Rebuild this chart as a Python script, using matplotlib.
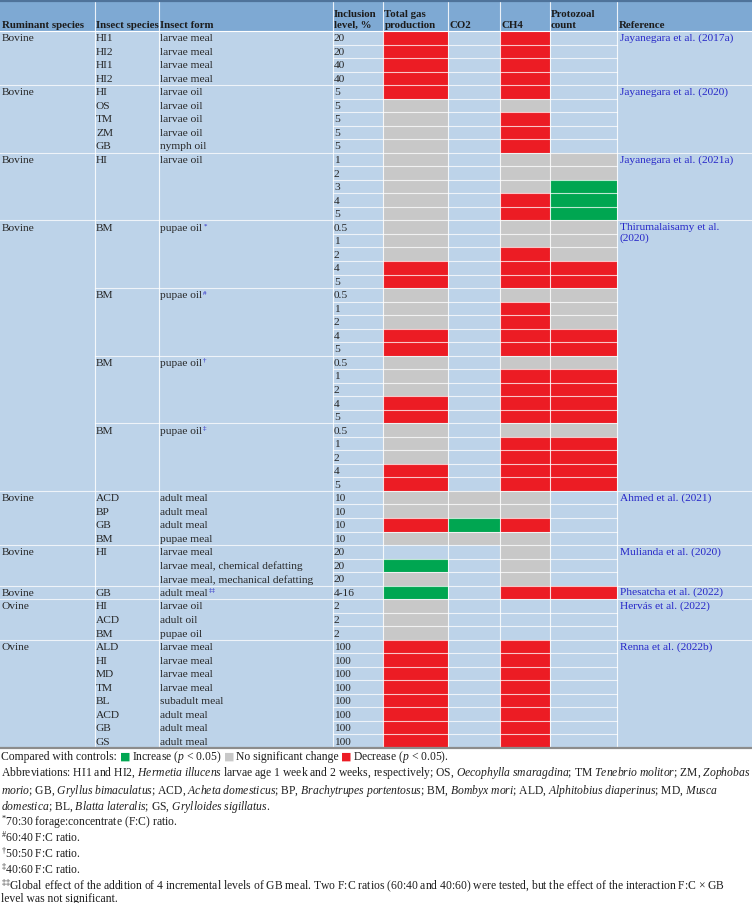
import matplotlib
matplotlib.use("Agg")
import matplotlib.pyplot as plt

plt.rcParams['font.family'] = ['Liberation Serif', 'DejaVu Serif']
plt.rcParams['mathtext.fontset'] = 'custom'
plt.rcParams['mathtext.rm'] = 'Liberation Serif'
plt.rcParams['mathtext.it'] = 'Liberation Serif:italic'

# ---- table data ----
headers = ["Ruminant species", "Insect species", "Insect form", "Inclusion\nlevel, %",
           "Total gas\nproduction", "CO2", "CH4", "Protozoal\ncount", "Reference"]

group_ruminant = ["Bovine"] * 7 + ["Ovine"] * 2
group_reference = ["Jayanegara et al. (2017a)", "Jayanegara et al. (2020)",
                   "Jayanegara et al. (2021a)", "Thirumalaisamy et al.\n(2020)",
                   "Ahmed et al. (2021)", "Mulianda et al. (2020)",
                   "Phesatcha et al. (2022)", "Hervás et al. (2022)", "Renna et al. (2022b)"]
group_size = [4, 5, 5, 20, 4, 3, 1, 3, 8]
subgroup_rows = [19, 24, 29]  # BM sub-blocks inside Thirumalaisamy

species = (["HI1", "HI2", "HI1", "HI2"]
           + ["HI", "OS", "TM", "ZM", "GB"]
           + ["HI", "", "", "", ""]
           + ["BM", "", "", "", ""] * 4
           + ["ACD", "BP", "GB", "BM"]
           + ["HI", "", ""]
           + ["GB"]
           + ["HI", "ACD", "BM"]
           + ["ALD", "HI", "MD", "TM", "BL", "ACD", "GB", "GS"])

forms = (["larvae meal"] * 4
         + ["larvae oil"] * 4 + ["nymph oil"]
         + ["larvae oil", "", "", "", ""]
         + ["pupae oil", "", "", "", ""] * 4
         + ["adult meal"] * 3 + ["pupae meal"]
         + ["larvae meal", "larvae meal, chemical defatting", "larvae meal, mechanical defatting"]
         + ["adult meal"]
         + ["larvae oil", "adult oil", "pupae oil"]
         + ["larvae meal"] * 4 + ["subadult meal"] + ["adult meal"] * 3)

form_notes = [""] * 53
form_notes[14] = "*"
form_notes[19] = "#"
form_notes[24] = "†"
form_notes[29] = "‡"
form_notes[41] = "‡‡"

inclusion = (["20", "20", "40", "40"] + ["5"] * 5 + ["1", "2", "3", "4", "5"]
             + ["0.5", "1", "2", "4", "5"] * 4 + ["10"] * 4 + ["20"] * 3
             + ["4-16"] + ["2"] * 3 + ["100"] * 8)

# R = decrease, G = increase, N = no significant change, - = not measured
total_gas = list("RRRR" + "RNNNN" + "NNNNN" + "NNNRR" * 4 + "NNRN" + "-GN" + "G" + "NNN" + "R" * 8)
co2 = list("-" * 34 + "NNGN" + "---" + "-" + "---" + "-" * 8)
ch4 = list("RRRR" + "RNRRR" + "NNNRR" + "NNRRR" + "NRRRR" * 3 + "NNRN" + "NNN" + "R" + "---" + "R" * 8)
protozoal = list("----" + "-----" + "NNGGG" + "NNNRR" * 2 + "NRRRR" * 2 + "----" + "---" + "R" + "---" + "-" * 8)

# ---- layout ----
W, H = 752, 904
col_edges = [0, 94.5, 159, 332.5, 383, 448, 500, 549.5, 617, 752]
top, head_bot, body_bot = 2, 32, 749
n_rows = len(inclusion)
rh = (body_bot - head_bot) / n_rows

c_head = "#7ea9d3"
c_body = "#bdd3e9"
c_code = {"R": "#ec1c24", "G": "#00a651", "N": "#c8c8c8"}
c_ref = "#2626c8"
c_txt = "#262626"
fs = 8.2
hfs = 7.8
ffs = 8.4

fig = plt.figure(figsize=(W / 100, H / 100), dpi=100)
ax = fig.add_axes([0, 0, 1, 1])
ax.set_xlim(0, W)
ax.set_ylim(H, 0)
ax.axis("off")

ax.bar(0, head_bot - top, width=W, bottom=top, align="edge", color=c_head, zorder=0)
ax.bar(0, body_bot - head_bot, width=W, bottom=head_bot, align="edge", color=c_body, zorder=0)

# effect cells
rows = range(n_rows)
for ci, col in zip([4, 5, 6, 7], [total_gas, co2, ch4, protozoal]):
    for code, color in c_code.items():
        idx = [i for i in rows if col[i] == code]
        ax.bar([col_edges[ci]] * len(idx), [rh] * len(idx),
               width=col_edges[ci + 1] - col_edges[ci],
               bottom=[head_bot + i * rh for i in idx], align="edge",
               color=color, zorder=1)

# grid lines
group_starts = [sum(group_size[:k]) for k in range(len(group_size))]
for x in col_edges[1:-1]:
    ax.plot([x, x], [top, body_bot], color="white", lw=0.8, alpha=0.85, zorder=2)
ax.plot([0, W], [head_bot, head_bot], color="white", lw=0.8, zorder=2)
for i in range(1, n_rows):
    y = head_bot + i * rh
    if i in group_starts:
        x0, x1 = 0, W
    elif i in subgroup_rows:
        x0, x1 = col_edges[1], col_edges[8]
    else:
        x0, x1 = col_edges[3], col_edges[8]
    ax.plot([x0, x1], [y, y], color="white", lw=0.8, alpha=0.75, zorder=2)
ax.plot([0, W], [top, top], color="#4f739a", lw=1.6, zorder=3)
ax.plot([0, W], [body_bot, body_bot], color="#8c8c8c", lw=1.6, zorder=3)

# header
for k, h in enumerate(headers):
    ax.text(col_edges[k] + 1.5, head_bot - 2.5, h, fontsize=hfs, fontweight="bold",
            color="#1c1c1c", ha="left", va="bottom", linespacing=1.2, zorder=4)

renderer = fig.canvas.get_renderer()

# body text
for g, start in enumerate(group_starts):
    yc = head_bot + (start + 0.5) * rh
    ax.text(col_edges[0] + 1.5, yc, group_ruminant[g], fontsize=fs, color=c_txt,
            va="center", zorder=4)
    ax.text(col_edges[8] + 2.5, head_bot + start * rh + 1.2, group_reference[g],
            fontsize=fs, color=c_ref, va="top", linespacing=1.2, zorder=4)

for i in rows:
    yc = head_bot + (i + 0.5) * rh
    ax.text(col_edges[1] + 1.5, yc, species[i], fontsize=fs, color=c_txt, va="center", zorder=4)
    t = ax.text(col_edges[2] + 1.5, yc, forms[i], fontsize=fs, color=c_txt, va="center", zorder=4)
    if form_notes[i]:
        bb = t.get_window_extent(renderer)
        ax.text(bb.x1 + 0.6, yc - 2.5, form_notes[i], fontsize=5, color=c_ref,
                va="center", zorder=4)
    ax.text(col_edges[3] + 1.5, yc, inclusion[i], fontsize=fs, color=c_txt, va="center", zorder=4)

# legend line
x = 1
y_leg = 760
pieces = [("Compared with controls:", "#1e1e1e", 3),
          ("■", c_code["G"], 2), ("Increase ($\\mathit{p}$ < 0.05)", "#1e1e1e", 2),
          ("■", c_code["N"], 2), ("No significant change", "#1e1e1e", 2),
          ("■", c_code["R"], 2), ("Decrease ($\\mathit{p}$ < 0.05).", "#1e1e1e", 0)]
for txt, color, gap in pieces:
    if txt == "■":
        t = ax.text(x, y_leg - 0.5, txt, fontsize=8, color=color, va="baseline",
                    family="DejaVu Sans")
    else:
        t = ax.text(x, y_leg, txt, fontsize=ffs, color=color, va="baseline")
    x = t.get_window_extent(renderer).x1 + gap

notes = [
    "Abbreviations: HI1 and HI2, $\\mathit{Hermetia\\ illucens}$ larvae age 1 week and 2 weeks, respectively; "
    "OS, $\\mathit{Oecophylla\\ smaragdina}$; TM $\\mathit{Tenebrio\\ molitor}$; ZM, $\\mathit{Zophobas}$",
    "$\\mathit{morio}$; GB, $\\mathit{Gryllus\\ bimaculatus}$; ACD, $\\mathit{Acheta\\ domesticus}$; "
    "BP, $\\mathit{Brachytrupes\\ portentosus}$; BM, $\\mathit{Bombyx\\ mori}$; ALD, "
    "$\\mathit{Alphitobius\\ diaperinus}$; MD, $\\mathit{Musca}$",
    "$\\mathit{domestica}$; BL, $\\mathit{Blatta\\ lateralis}$; GS, $\\mathit{Grylloides\\ sigillatus}$.",
    "$^{*}$70:30 forage:concentrate (F:C) ratio.",
    "$^{\\#}$60:40 F:C ratio.",
    "$^{†}$50:50 F:C ratio.",
    "$^{‡}$40:60 F:C ratio.",
    "$^{‡‡}$Global effect of the addition of 4 incremental levels of GB meal. Two F:C ratios (60:40 and 40:60) "
    "were tested, but the effect of the interaction F:C × GB",
    "level was not significant.",
]
note_base = [776.5, 794, 810, 826, 842, 858, 874, 889.5, 902.5]
for txt, y in zip(notes, note_base):
    ax.text(1, y, txt, fontsize=ffs, color="#1e1e1e", va="baseline")

fig.savefig("out.png", dpi=100)
